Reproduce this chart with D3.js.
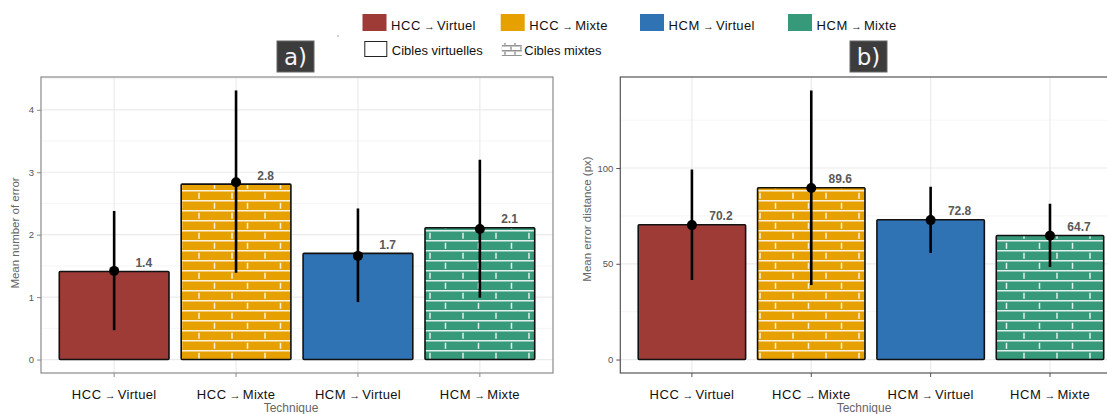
<!DOCTYPE html>
<html><head><meta charset="utf-8">
<script src="https://cdn.jsdelivr.net/npm/d3@7"></script>
<style>body{margin:0;background:#fff} svg{display:block;font-family:"Liberation Sans",Arial,sans-serif}</style>
</head><body><svg id="c" width="1107" height="414"></svg>
<script>
// ---- data ----
const categories = ["HCC→Virtuel", "HCC→Mixte", "HCM→Virtuel", "HCM→Mixte"];
const targetTypes = ["Cibles virtuelles", "Cibles mixtes"];
const categoryTarget = ["Cibles virtuelles", "Cibles mixtes", "Cibles virtuelles", "Cibles mixtes"];

const errorBars   = [1.41, 2.81, 1.70, 2.11];
const errorMeans  = [1.42, 2.84, 1.66, 2.09];
const errorLow    = [0.47, 1.39, 0.92, 0.99];
const errorHigh   = [2.38, 4.31, 2.42, 3.20];
const errorLabels = ["1.4", "2.8", "1.7", "2.1"];
const errorTicks  = [0, 1, 2, 3, 4];
const errorMinor  = [0.5, 1.5, 2.5, 3.5, 4.5];

const distBars   = [70.4, 89.7, 73.0, 64.8];
const distMeans  = [70.2, 89.6, 72.8, 64.7];
const distLow    = [41.5, 38.9, 55.6, 48.3];
const distHigh   = [99.2, 140.5, 90.2, 81.4];
const distLabels = ["70.2", "89.6", "72.8", "64.7"];
const distTicks  = [0, 50, 100];
const distMinor  = [25, 75, 125];

const colors = ["#9E3B37", "#E6A101", "#2F73B4", "#36997A"];

// ---- drawing ----
const svg = d3.select("#c");
const defs = svg.append("defs");

function brickPattern(id, stroke, op, w, h, tick, sw) {
  const p = defs.append("pattern").attr("id", id).attr("patternUnits", "userSpaceOnUse")
    .attr("width", w).attr("height", 2 * h);
  const g = p.append("g").attr("stroke", stroke).attr("stroke-opacity", op).attr("stroke-width", sw);
  g.append("line").attr("x1", 0).attr("x2", w).attr("y1", 0.8).attr("y2", 0.8);
  g.append("line").attr("x1", 0).attr("x2", w).attr("y1", h + 0.8).attr("y2", h + 0.8);
  const m = (h - tick) / 2;
  g.append("line").attr("x1", w / 2).attr("x2", w / 2).attr("y1", m + 0.8).attr("y2", m + tick + 0.8);
  g.append("line").attr("x1", 1).attr("x2", 1).attr("y1", h + m + 0.8).attr("y2", h + m + tick + 0.8);
}
brickPattern("bricks", "#fff", 0.85, 33, 10, 6, 1.5);
brickPattern("bricksKey", "#777", 1, 10, 5, 3, 1.2);

function arrowLabel(sel, label, big, small) {
  const parts = label.split("→");
  sel.append("tspan").text(parts[0]).attr("font-size", big).attr("letter-spacing", 0.6);
  sel.append("tspan").text("→").attr("font-size", small).attr("dx", 3);
  sel.append("tspan").text(parts[1]).attr("font-size", big).attr("letter-spacing", 0.3).attr("dx", 2);
}

function drawPanel(o) {
  const lo = Math.min(0, d3.min(o.low)), hi = d3.max(o.high);
  const pad = 0.05 * (hi - lo);
  const y = d3.scaleLinear().domain([lo - pad, hi + pad]).range([373, 77]);
  const x = d3.scaleBand().domain(categories).range([o.x0, o.x1]).paddingInner(0.1).paddingOuter(0.15);
  const g = svg.append("g");
  const clipId = "clip" + o.id;
  defs.append("clipPath").attr("id", clipId).append("rect")
    .attr("x", o.x0).attr("y", 77).attr("width", o.x1 - o.x0).attr("height", 296);
  const pg = g.append("g").attr("clip-path", `url(#${clipId})`);
  // grid
  pg.selectAll(".mn").data(o.minor).join("line")
    .attr("x1", o.x0).attr("x2", o.x1).attr("y1", d => y(d)).attr("y2", d => y(d))
    .attr("stroke", "#f2f2f2").attr("stroke-width", 0.8);
  pg.selectAll(".mj").data(o.ticks).join("line")
    .attr("x1", o.x0).attr("x2", o.x1).attr("y1", d => y(d)).attr("y2", d => y(d))
    .attr("stroke", "#ebebeb").attr("stroke-width", 1.2);
  pg.selectAll(".vx").data(categories).join("line")
    .attr("x1", d => x(d) + x.bandwidth() / 2).attr("x2", d => x(d) + x.bandwidth() / 2)
    .attr("y1", 77).attr("y2", 373).attr("stroke", "#ebebeb").attr("stroke-width", 1.2);
  // bars
  categories.forEach((c, i) => {
    const bx = x(c), bw = x.bandwidth(), by = y(o.bars[i]), bh = y(0) - y(o.bars[i]);
    pg.append("rect").attr("x", bx).attr("y", by).attr("width", bw).attr("height", bh)
      .attr("fill", colors[i]);
    if (categoryTarget[i] === "Cibles mixtes") {
      pg.append("rect").attr("x", bx).attr("y", by).attr("width", bw).attr("height", bh)
        .attr("fill", "url(#bricks)");
    }
    pg.append("rect").attr("x", bx).attr("y", by).attr("width", bw).attr("height", bh)
      .attr("fill", "none").attr("stroke", "#111").attr("stroke-width", 1.6).attr("rx", 1);
  });
  // error bars + points
  categories.forEach((c, i) => {
    const cx = x(c) + x.bandwidth() / 2;
    pg.append("line").attr("x1", cx).attr("x2", cx).attr("y1", y(o.low[i])).attr("y2", y(o.high[i]))
      .attr("stroke", "#000").attr("stroke-width", 2.6);
    pg.append("circle").attr("cx", cx).attr("cy", y(o.means[i])).attr("r", 5).attr("fill", "#000");
    pg.append("text").attr("x", cx + x.bandwidth() * 0.27).attr("y", y(o.bars[i]) - 4.5)
      .attr("text-anchor", "middle").attr("font-size", 12).attr("font-weight", "bold")
      .attr("fill", "#595959").text(o.labels[i]);
  });
  // border
  g.append("rect").attr("x", o.x0).attr("y", 77).attr("width", o.x1 - o.x0).attr("height", 296)
    .attr("fill", "none").attr("stroke", o.border).attr("stroke-width", 1.2);
  // y axis
  const ya = g.append("g").attr("transform", `translate(${o.x0},0)`)
    .call(d3.axisLeft(y).tickValues(o.ticks).tickFormat(d3.format("d")).tickSize(4).tickPadding(3));
  ya.select(".domain").remove();
  ya.selectAll("line").attr("stroke", o.border);
  ya.selectAll("text").attr("font-size", 9.5).attr("fill", "#555").attr("font-family", "Liberation Sans, Arial, sans-serif");
  // x axis
  const xa = g.append("g").attr("transform", `translate(0,373)`)
    .call(d3.axisBottom(x).tickSize(4).tickFormat(""));
  xa.select(".domain").remove();
  xa.selectAll("line").attr("stroke", o.border);
  categories.forEach(c => {
    const t = g.append("text").attr("x", x(c) + x.bandwidth() / 2).attr("y", 399)
      .attr("text-anchor", "middle").attr("fill", "#111");
    arrowLabel(t, c, 13, 11);
  });
  g.append("text").attr("x", o.xTitleX).attr("y", 412).attr("text-anchor", "middle")
    .attr("font-size", 12).attr("fill", "#666").text("Technique");
  g.append("text").attr("transform", `translate(${o.yTitleX},${o.yTitleY}) rotate(-90)`)
    .attr("text-anchor", "middle").attr("font-size", 11.5).attr("fill", "#666").text(o.yTitle);
  // tag box
  g.append("rect").attr("x", o.tagX).attr("y", 41).attr("width", 37).attr("height", 31)
    .attr("fill", "#3c3c3c").attr("stroke", "#666").attr("stroke-width", 1);
  g.append("text").attr("x", o.tagX + 18.5).attr("y", 65).attr("text-anchor", "middle")
    .attr("font-size", 23).attr("fill", "#f4f4f8").attr("font-family", "DejaVu Sans, sans-serif").text(o.tag);
}

drawPanel({id: "a", x0: 41, x1: 553, bars: errorBars, means: errorMeans, low: errorLow, high: errorHigh,
  labels: errorLabels, ticks: errorTicks, minor: errorMinor, border: "#8a8a8a",
  yTitle: "Mean number of error", yTitleX: 19, yTitleY: 233, xTitleX: 291, tag: "a)", tagX: 277});
drawPanel({id: "b", x0: 620.3, x1: 1121.6, bars: distBars, means: distMeans, low: distLow, high: distHigh,
  labels: distLabels, ticks: distTicks, minor: distMinor, border: "#555",
  yTitle: "Mean error distance (px)", yTitleX: 591, yTitleY: 219, xTitleX: 864, tag: "b)", tagX: 850});

// legend
const legX = [362.5, 500.7, 640, 788];
categories.forEach((c, i) => {
  svg.append("rect").attr("x", legX[i]).attr("y", 14).attr("width", 24).attr("height", 17).attr("fill", colors[i]);
  const t = svg.append("text").attr("x", legX[i] + 28.5).attr("y", 30).attr("fill", "#111");
  arrowLabel(t, c, 13, 11);
});
const leg2X = [364.3, 501.8];
targetTypes.forEach((tt, i) => {
  if (i === 0) {
    svg.append("rect").attr("x", leg2X[i] + 0.5).attr("y", 41.5).attr("width", 22).attr("height", 15)
      .attr("fill", "#fff").attr("stroke", "#222").attr("stroke-width", 1);
  } else {
    svg.append("rect").attr("x", leg2X[i]).attr("y", 43).attr("width", 20).attr("height", 13)
      .attr("fill", "url(#bricksKey)");
  }
  svg.append("text").attr("x", leg2X[i] + (i === 0 ? 27.5 : 22.5)).attr("y", 55)
    .attr("font-size", 13).attr("fill", "#111").text(tt);
});
svg.append("circle").attr("cx", 338).attr("cy", 36).attr("r", 0.8).attr("fill", "#999");
</script></body></html>
